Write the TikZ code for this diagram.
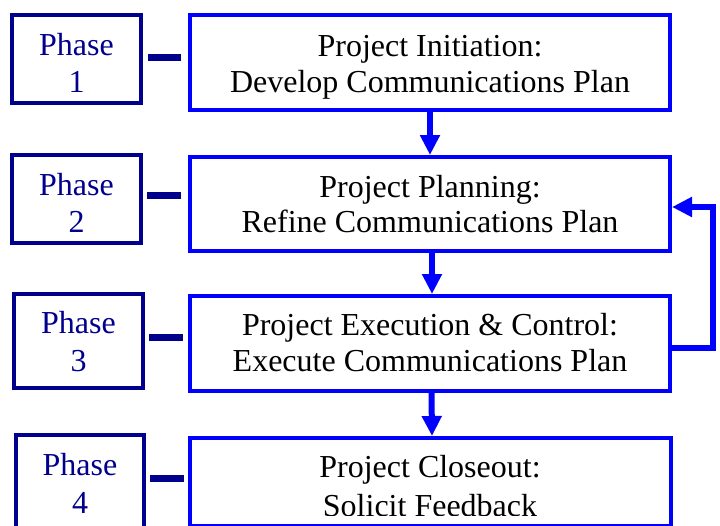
\documentclass[tikz,border=0pt]{standalone}
\usepackage{fontspec}
\setmainfont{Liberation Serif}
\usetikzlibrary{arrows.meta}
\definecolor{navyc}{RGB}{0,0,140}
\definecolor{bluec}{RGB}{0,0,255}
\begin{document}
\begin{tikzpicture}[x=1pt,y=-1pt,
 mainbox/.style={draw=bluec,line width=4pt,minimum width=480pt,inner sep=0pt},
 phasebox/.style={draw=navyc,line width=4pt,inner sep=0pt},
 maintxt/.style={anchor=base,font=\fontsize{32}{36}\selectfont,text=black,inner sep=0pt},
 phasetxt/.style={anchor=base,font=\fontsize{32}{36}\selectfont,text=navyc,inner sep=0pt},
 link/.style={draw=navyc,line width=7pt},
 flow/.style={draw=bluec,line width=6pt,-{Triangle[width=19pt,length=20pt]}}]
\useasboundingbox (0,0) rectangle (720,525);
\clip (0,0) rectangle (720,525);

% phase boxes
\node[phasebox,minimum width=129pt,minimum height=88pt] (p1) at (76.5,59) {};
\node[phasebox,minimum width=129pt,minimum height=88pt] (p2) at (76.5,199) {};
\node[phasebox,minimum width=129pt,minimum height=94pt] (p3) at (78.5,341) {};
\node[phasebox,minimum width=128pt,minimum height=100pt] (p4) at (80,485) {};

% main boxes
\node[mainbox,minimum height=95pt] (b1) at (430,62.5) {};
\node[mainbox,minimum height=94pt] (b2) at (430,204) {};
\node[mainbox,minimum height=95pt] (b3) at (430,343.5) {};
\node[mainbox,minimum width=481pt,minimum height=88pt] (b4) at (430.5,482) {};

% phase texts
\node[phasetxt] (q1a) at (76.5,55) {Phase};
\node[phasetxt] (q1b) at (76.5,92) {1};
\node[phasetxt] (q2a) at (76.5,195) {Phase};
\node[phasetxt] (q2b) at (76.5,232) {2};
\node[phasetxt] (q3a) at (78.5,333) {Phase};
\node[phasetxt] (q3b) at (78.5,371) {3};
\node[phasetxt] (q4a) at (80,475) {Phase};
\node[phasetxt] (q4b) at (80,513) {4};

% main texts
\node[maintxt] (t1a) at (430,56) {Project Initiation:};
\node[maintxt] (t1b) at (430,92) {Develop Communications Plan};
\node[maintxt] (t2a) at (430,197) {Project Planning:};
\node[maintxt] (t2b) at (430,232) {Refine Communications Plan};
\node[maintxt] (t3a) at (430,335) {Project Execution \& Control:};
\node[maintxt] (t3b) at (430,371) {Execute Communications Plan};
\node[maintxt] (t4a) at (430,477) {Project Closeout:};
\begin{scope}
\clip (190,440) rectangle (671,515);
\node[maintxt] (t4b) at (430,516) {Solicit Feedback};
\end{scope}

% links between phase and main boxes
\coordinate (l1a) at (148,57); \coordinate (l1b) at (181,57);
\coordinate (l2a) at (147,195); \coordinate (l2b) at (181,195);
\coordinate (l3a) at (149,337); \coordinate (l3b) at (183,337);
\coordinate (l4a) at (150,478); \coordinate (l4b) at (184,478);
\draw[link] (l1a) -- (l1b);
\draw[link] (l2a) -- (l2b);
\draw[link] (l3a) -- (l3b);
\draw[link] (l4a) -- (l4b);

% flow arrows
\draw[flow] (b1.south) -- (b2.north);
\draw[flow] ([xshift=2pt]b2.south) -- ([xshift=2pt]b3.north);
\draw[flow] ([xshift=1.5pt]b3.south) -- ([xshift=1.5pt]b4.north);

% feedback loop
\coordinate (fb1) at (713,348);
\coordinate (fb2) at (713,207);
\draw[flow] (b3.east |- fb1) -- (fb1) -- (fb2) -- (b2.east |- fb2);
\end{tikzpicture}
\end{document}
